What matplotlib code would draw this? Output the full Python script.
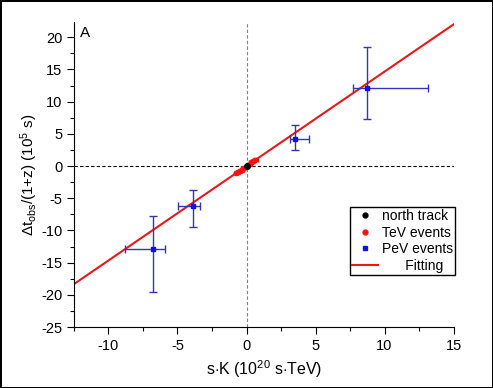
import numpy as np
import matplotlib
matplotlib.use('Agg')
import matplotlib.pyplot as plt
from matplotlib.ticker import MultipleLocator
from matplotlib.lines import Line2D

plt.rcParams['font.family'] = ['Liberation Sans', 'DejaVu Sans']
plt.rcParams['mathtext.fontset'] = 'custom'
plt.rcParams['mathtext.rm'] = 'Liberation Sans'
plt.rcParams['mathtext.it'] = 'Liberation Sans'

# PeV events
pev_x = [8.71, 3.48, -3.87, -6.77]
pev_y = [12.05, 4.19, -6.15, -12.87]
pev_xlo = [0.99, 0.34, 1.11, 2.03]
pev_xhi = [4.42, 1.07, 0.48, 0.89]
pev_ylo = [4.76, 1.76, 3.31, 6.63]
pev_yhi = [6.35, 2.11, 2.43, 5.17]

# TeV events
tev_x = [-0.78, -0.62, -0.48, -0.35, -0.22, 0.22, 0.35, 0.5, 0.65]
tev_y = [-1.05, -0.85, -0.7, -0.55, -0.35, 0.35, 0.55, 0.75, 0.95]
tev_xerr = 0.15
tev_yerr = 0.22

# north track
nt_x = [0.0]
nt_y = [0.0]

# fitting line
slope = 1.466
fit_x = [-12.5, 15]

fig = plt.figure(figsize=(4.93, 3.88), dpi=100)
fig.patch.set_edgecolor('black')
fig.patch.set_linewidth(2)
ax = fig.add_axes([0.150, 0.157, 0.770, 0.787])

ax.axhline(0, color='black', ls=(0, (3, 2)), lw=0.8, zorder=1)
ax.axvline(0, color='gray', ls=(0, (3, 2)), lw=0.8, zorder=1)

fx = np.array(fit_x)
ax.plot(fx, slope * fx, color='#e8191c', lw=1.5, zorder=2)

ax.errorbar(tev_x, tev_y, xerr=tev_xerr, yerr=tev_yerr, fmt='o', ms=3,
            color='#ff1010', ecolor='#ff1010', elinewidth=1.2, capsize=1.5,
            zorder=3)
ax.plot(nt_x, nt_y, 'o', color='black', ms=4, zorder=4)
ax.errorbar(pev_x, pev_y, xerr=[pev_xlo, pev_xhi], yerr=[pev_ylo, pev_yhi],
            fmt='s', ms=3.5, color='#1010ee', ecolor='#3535b0', elinewidth=1,
            capsize=3, capthick=1, zorder=3)

ax.set_xlim(-12.5, 15)
ax.set_ylim(-25, 22.4)
ax.xaxis.set_minor_locator(MultipleLocator(2.5))
ax.yaxis.set_minor_locator(MultipleLocator(2.5))
ax.tick_params(which='major', length=5, width=0.8, labelsize=10.5)
ax.tick_params(which='minor', length=3, width=0.8)
ax.set_xticks([-10, -5, 0, 5, 10, 15])
ax.set_xticklabels(['-10', '-5', '0', '5', '10', '15'])
ax.set_yticks([-25, -20, -15, -10, -5, 0, 5, 10, 15, 20])
ax.set_yticklabels(['-25', '-20', '-15', '-10', '-5', '0', '5', '10', '15', '20'])
for s in ['top', 'right']:
    ax.spines[s].set_visible(False)
for s in ['left', 'bottom']:
    ax.spines[s].set_linewidth(0.8)

ax.set_xlabel(r's$\cdot$K (10$^{20}$ s$\cdot$TeV)', fontsize=11.5)
ax.set_ylabel(r'$\Delta$t$_{\rm obs}$/(1+z) (10$^5$ s)', fontsize=11)
ax.yaxis.set_label_coords(-0.09, 0.5)
ax.text(0.015, 0.985, 'A', transform=ax.transAxes, fontsize=11, va='top', ha='left')

handles = [Line2D([], [], ls='', marker='o', color='black', ms=3.5),
           Line2D([], [], ls='', marker='o', color='#ff1010', ms=3.5),
           Line2D([], [], ls='', marker='s', color='#1010ee', ms=3),
           Line2D([], [], color='#e8191c', lw=1.5)]
leg = ax.legend(handles, ['north track', 'TeV events', 'PeV events', '      Fitting'],
                loc='lower right', bbox_to_anchor=(1.005, 0.17), fontsize=10,
                frameon=True, fancybox=False, edgecolor='black', framealpha=1,
                borderpad=0.15, labelspacing=0.2, handlelength=1.9, handletextpad=0.3,
                borderaxespad=0)
leg.get_frame().set_linewidth(1)

fig.savefig('out.png', dpi=100)
